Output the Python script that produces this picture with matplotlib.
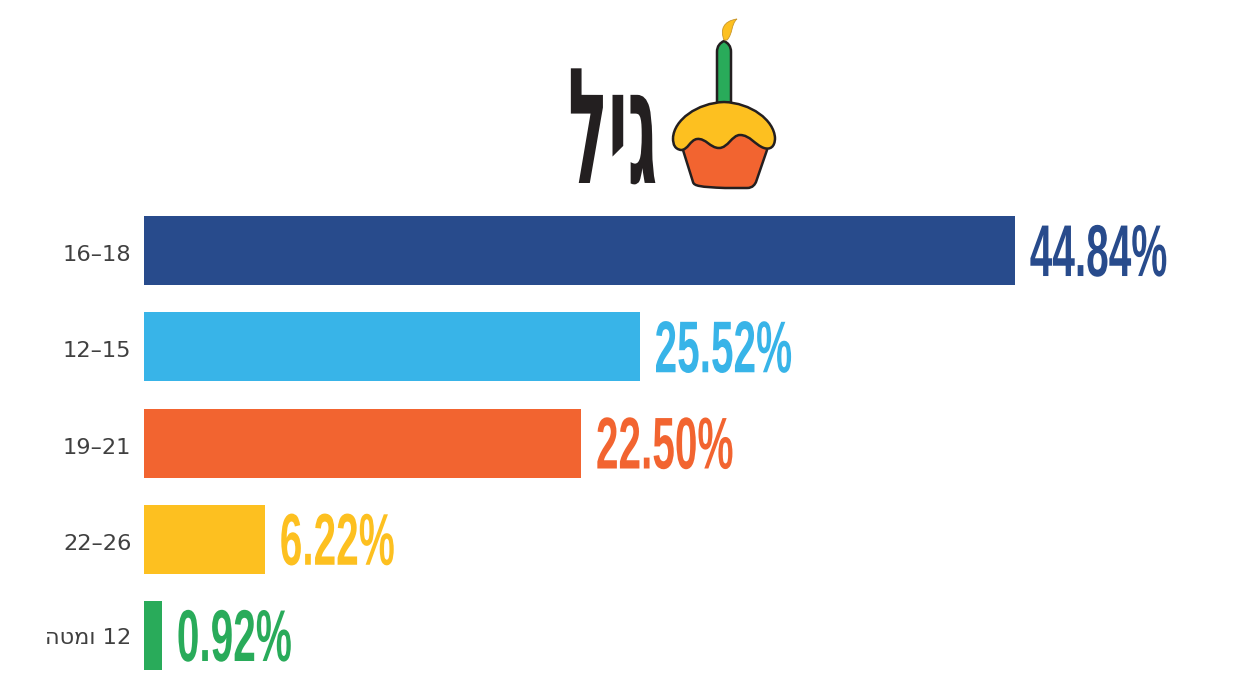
import matplotlib
matplotlib.use('Agg')
import matplotlib.pyplot as plt
from matplotlib.patches import PathPatch
from matplotlib.path import Path
from matplotlib.patheffects import AbstractPathEffect
from matplotlib.transforms import Affine2D, ScaledTranslation

# matplotlib has no bidi, so Hebrew strings are written in visual order
title = 'ליג'
groups = ['16–18', '12–15', '19–21', '22–26', 'הטמו 12']
shares = [44.84, 25.52, 22.50, 6.22, 0.92]
value_labels = ['44.84%', '25.52%', '22.50%', '6.22%', '0.92%']
colors = ['#284b8c', '#38b4e8', '#f26430', '#fdc020', '#29ab5a']
dark = '#231f20'

W, H = 1237, 674
px = 0.72  # font pt per image pixel at dpi 100


class Stretch(AbstractPathEffect):
    # reshapes the glyphs, there is no tall condensed display font here
    def __init__(self, sx, sy):
        super().__init__()
        self.sx = sx
        self.sy = sy

    def draw_path(self, renderer, gc, tpath, affine, rgbFace=None):
        renderer.draw_path(gc, tpath, Affine2D().scale(self.sx, self.sy) + affine, rgbFace)


fig = plt.figure(figsize=(W / 100, H / 100), dpi=100)

# bars
ax = fig.add_axes([144 / W, 0, (W - 144) / W, (H - 202.4) / H])
ax.barh(range(len(shares)), shares, height=0.717, color=colors)
ax.set_xlim(0, (W - 144) / 19.42)
ax.set_ylim(4.4, -0.5)
ax.set_yticks(range(len(groups)))
ax.set_yticklabels(groups, family='DejaVu Sans', fontsize=22.5 * px, color='#404040')
ax.tick_params(axis='y', length=0, pad=9)
ax.xaxis.set_visible(False)
for s in ax.spines.values():
    s.set_visible(False)

# number labels sit a little below the bar centres, the Hebrew one does not
shift = ScaledTranslation(0, -2.5 / 100, fig.dpi_scale_trans)
for lab in ax.get_yticklabels()[:-1]:
    lab.set_transform(lab.get_transform() + shift)

for i, (v, lab, c) in enumerate(zip(shares, value_labels, colors)):
    t = ax.annotate(lab, (v, i), xytext=(15 * px, -25.5 * px), textcoords='offset points',
                    ha='left', va='baseline', color=c, family='Liberation Sans',
                    weight='bold', fontsize=52 * px)
    t.set_path_effects([Stretch(0.78, 1.41)])

# title and cupcake, drawn in image pixels
deco = fig.add_axes([0, 0, 1, 1], zorder=-1)
deco.set_xlim(0, W)
deco.set_ylim(H, 0)
deco.axis('off')

t = deco.text(568, 183, title, ha='left', va='baseline', color=dark,
              family='DejaVu Sans', weight='bold', fontsize=130 * px)
t.set_path_effects([Stretch(0.51, 1.24)])

M, L, C, Z = Path.MOVETO, Path.LINETO, Path.CURVE4, Path.CLOSEPOLY
lw = 2.5 * px

candle = Path([(717, 103), (717, 52), (717, 46), (720, 43), (724, 41),
               (728, 43), (731, 46), (731, 52), (731, 103), (717, 103)],
              [M, L, C, C, C, C, C, C, L, Z])
deco.add_patch(PathPatch(candle, fc=colors[4], ec=dark, lw=lw))

flame = Path([(724, 40), (720, 30), (723, 21), (737, 19),
              (731, 24), (733, 34), (727, 40), (724, 40)],
             [M, C, C, C, C, C, C, Z])
deco.add_patch(PathPatch(flame, fc=colors[3], ec='#c9962a', lw=0.6))

body = Path([(683, 130), (683, 150), (693, 182), (694, 186), (700, 187), (725, 188),
             (747, 188), (753, 188), (755, 184), (756, 182), (767, 150), (767, 130),
             (683, 130)],
            [M, L, L, C, C, L, L, C, C, L, L, L, Z])
deco.add_patch(PathPatch(body, fc=colors[2], ec=dark, lw=lw))

icing = Path([(673, 138),
              (674, 120), (697, 103), (724, 102),
              (751, 103), (774, 120), (775, 138),
              (775, 147), (770, 150), (764, 148),
              (755, 145), (750, 135), (740, 135),
              (732, 135), (728, 148), (719, 148),
              (710, 148), (706, 138), (697, 139),
              (690, 140), (688, 150), (681, 150),
              (675, 149), (673, 145), (673, 138)],
             [M] + [C] * 24)
deco.add_patch(PathPatch(icing, fc=colors[3], ec=dark, lw=lw))

fig.savefig('out.png', dpi=100)
